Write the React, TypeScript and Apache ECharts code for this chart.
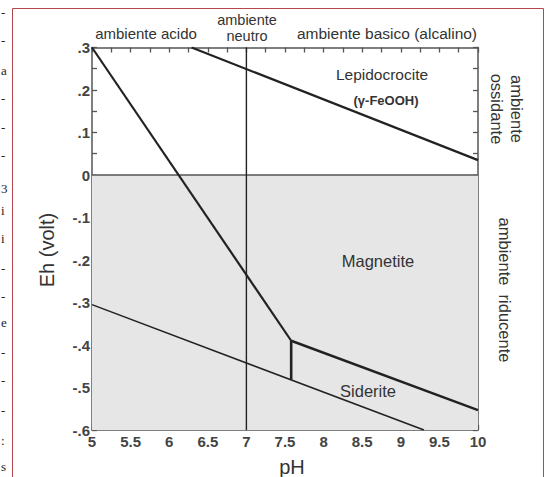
import React, { useEffect, useRef } from "react";
import * as echarts from "echarts";

// pH range and Eh range
const phTicks = [5, 5.5, 6, 6.5, 7, 7.5, 8, 8.5, 9, 9.5, 10];
const ehRange = [-0.6, 0.3];

// boundary lines [pH, Eh]
const zeroLine = [[5, 0], [10, 0]];
const neutralLine = [[7, 0.3], [7, -0.6]];
const steepLine = [[5, 0.3], [7.58, -0.39]];
const lepidoLine = [[6.29, 0.3], [10, 0.035]];
const sideriteUpper = [[7.58, -0.39], [10, -0.553]];
const sideriteVertical = [[7.58, -0.39], [7.58, -0.482]];
const sideriteLower = [[5, -0.305], [9.3, -0.6]];

const FONT = "'Liberation Sans', Arial, Helvetica, sans-serif";
const SERIF = "'Liberation Serif', 'DejaVu Serif', serif";

const leftFragments = [
  { t: "-", y: 12 }, { t: "-", y: 40 }, { t: "a", y: 70 }, { t: "-", y: 98 },
  { t: "-", y: 127 }, { t: "-", y: 155 }, { t: "3", y: 188 }, { t: "i", y: 210 },
  { t: "i", y: 238 }, { t: "-", y: 268 }, { t: "-", y: 296 }, { t: "e", y: 322 },
  { t: "-", y: 352 }, { t: "-", y: 380 }, { t: "-", y: 410 }, { t: ":", y: 440 },
  { t: "s", y: 466 },
];

function fmtEh(v: number) {
  const r = Math.round(v * 10) / 10;
  if (r === 0) return "0";
  return r.toFixed(1).replace("0.", ".");
}

export default function App() {
  const ref = useRef<HTMLDivElement>(null);
  useEffect(() => {
    if (!ref.current) return;
    const chart = echarts.init(ref.current, null, { renderer: "svg" });
    const lineCol = "#222";
    const axisCol = "#555";
    const labelStyle = { color: "#444", fontSize: 15, fontWeight: "bold" as const, fontFamily: FONT };
    const mkLine = (data: number[][], width: number, z = 3) => ({
      type: "line",
      data,
      symbol: "none",
      xAxisIndex: 0,
      yAxisIndex: 0,
      lineStyle: { color: lineCol, width },
      z,
      silent: true,
    });
    const textEl = (text: string, x: number, y: number, size: number, extra: any = {}) => ({
      type: "text",
      x,
      y,
      rotation: extra.rotation || 0,
      style: {
        text,
        fill: extra.fill || "#333",
        font: `${extra.weight || "normal"} ${size}px ${FONT}`,
        textAlign: "center",
        textVerticalAlign: "middle",
        lineHeight: extra.lineHeight,
      },
      z: 100,
    });
    const tickStyle = { color: axisCol, width: 1.3 };
    chart.setOption({
      animation: false,
      backgroundColor: "#fff",
      grid: { left: 92, right: 67, top: 47.5, bottom: 47 },
      xAxis: [
        {
          type: "value",
          min: phTicks[0],
          max: phTicks[phTicks.length - 1],
          interval: 0.5,
          axisLine: { show: true, onZero: false, lineStyle: { color: axisCol, width: 1.5 } },
          axisTick: { show: true, inside: true, length: 5, lineStyle: tickStyle },
          minorTick: { show: true, splitNumber: 2, length: 5, lineStyle: tickStyle },
          splitLine: { show: false },
          axisLabel: { ...labelStyle, margin: 4, formatter: (v: number) => String(v) },
        },
        {
          type: "value",
          position: "top",
          min: phTicks[0],
          max: phTicks[phTicks.length - 1],
          interval: 0.5,
          axisLine: { show: true, onZero: false, lineStyle: { color: axisCol, width: 1.5 } },
          axisTick: { show: true, inside: true, length: 5, lineStyle: tickStyle },
          minorTick: { show: true, splitNumber: 2, length: 5, lineStyle: tickStyle },
          splitLine: { show: false },
          axisLabel: { show: false },
        },
      ],
      yAxis: [
        {
          type: "value",
          min: ehRange[0],
          max: ehRange[1],
          interval: 0.1,
          axisLine: { show: true, onZero: false, lineStyle: { color: axisCol, width: 1.5 } },
          axisTick: { show: true, inside: true, length: 5, lineStyle: tickStyle },
          minorTick: { show: true, splitNumber: 2, length: 5, lineStyle: tickStyle },
          splitLine: { show: false },
          axisLabel: { ...labelStyle, margin: 2, formatter: fmtEh },
        },
        {
          type: "value",
          position: "right",
          min: ehRange[0],
          max: ehRange[1],
          interval: 0.1,
          axisLine: { show: true, onZero: false, lineStyle: { color: axisCol, width: 1.5 } },
          axisTick: { show: true, inside: true, length: 5, lineStyle: tickStyle },
          minorTick: { show: true, splitNumber: 2, length: 5, lineStyle: tickStyle },
          splitLine: { show: false },
          axisLabel: { show: false },
        },
      ],
      series: [
        {
          type: "line",
          data: zeroLine,
          symbol: "none",
          lineStyle: { color: axisCol, width: 1.5 },
          areaStyle: { origin: "start", color: "#e6e6e6", opacity: 1 },
          z: 1,
          silent: true,
        },
        mkLine(neutralLine, 1.4),
        mkLine(steepLine, 2.2),
        mkLine(lepidoLine, 2.2),
        mkLine(sideriteUpper, 2.4),
        mkLine(sideriteVertical, 2.6),
        mkLine(sideriteLower, 1.6),
      ],
      graphic: [
        {
          type: "rect",
          shape: { x: 12.5, y: 8.5, width: 531, height: 480 },
          style: { fill: "none", stroke: "#b5474c", lineWidth: 1 },
          z: 100,
        },
        ...leftFragments.map((f) => ({
          type: "text",
          x: 1,
          y: f.y,
          style: {
            text: f.t,
            fill: "#222",
            font: `normal 13px ${SERIF}`,
            textAlign: "left",
            textVerticalAlign: "middle",
          },
          z: 100,
        })),
        textEl("ambiente acido", 146, 33, 15),
        textEl("ambiente", 247, 20, 14.5),
        textEl("neutro", 247, 36, 14.5),
        textEl("ambiente basico (alcalino)", 387, 33, 15.5),
        textEl("Lepidocrocite", 382, 74, 15.5),
        textEl("(\u03b3-FeOOH)", 386, 100, 13, { weight: "bold" }),
        textEl("Magnetite", 378, 261, 16.5),
        textEl("Siderite", 368, 391, 16.5),
        textEl("pH", 292, 467, 20),
        textEl("Eh (volt)", 47, 250, 20, { rotation: Math.PI / 2 }),
        textEl("ambiente\nossidante", 507, 109, 16.5, { rotation: -Math.PI / 2, lineHeight: 20 }),
        textEl("ambiente  riducente", 505, 290, 16.5, { rotation: -Math.PI / 2 }),
      ],
    });
    return () => chart.dispose();
  }, []);
  return (
    <div
      ref={ref}
      style={{ position: "fixed", left: 0, top: 0, width: 545, height: 477 }}
    />
  );
}
